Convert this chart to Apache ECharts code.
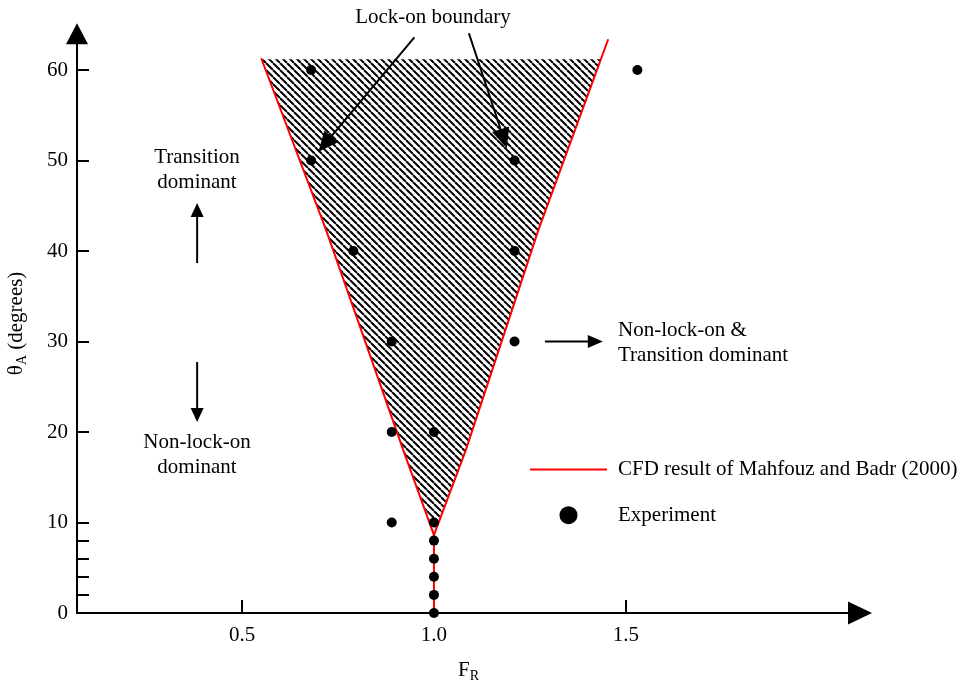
<!DOCTYPE html>
<html><head><meta charset="utf-8">
<script src="https://cdn.jsdelivr.net/npm/echarts@6/dist/echarts.min.js"></script>
<style>html,body{margin:0;padding:0;background:#fff}#c{width:964px;height:684px}</style>
</head><body><div id="c"></div>
<script>
const FONT = 'Liberation Serif';
// axis ticks / labels
const xTickValues = [0.5, 1.0, 1.5];
const yTickValues = [0, 2, 4, 6, 8, 10, 20, 30, 40, 50, 60];
const yLabelValues = [0, 10, 20, 30, 40, 50, 60];
// experiment points
const expF = [0.68, 1.53, 0.68, 1.21, 0.79, 1.21, 0.89, 1.21, 0.89, 1.0, 0.89, 1.0, 1.0, 1.0, 1.0, 1.0, 1.0];
const expTheta = [60, 60, 50, 50, 40, 40, 30, 30, 20, 20, 10, 10, 8, 6, 4, 2, 0];
// CFD lock-on boundary (Mahfouz and Badr 2000)
const cfdF = [0.55, 0.72, 0.92, 1.0, 1.0, 1.0, 1.083, 1.272, 1.454];
const cfdTheta = [61.3, 42.2, 18, 8.6, 0, 8.6, 18, 42.3, 63.4];
// hatched lock-on region
const lockF = [0.55, 1.435, 1.272, 1.083, 1.0, 0.92, 0.72];
const lockTheta = [61.2, 61.2, 42.3, 18, 9.0, 18, 42.2];
// annotation arrows (from -> to)
const arrowFromF = [0.949, 1.091, 0.383, 0.383, 1.289];
const arrowFromTheta = [63.6, 64.06, 38.67, 27.73, 30];
const arrowToF = [0.699, 1.190, 0.383, 0.383, 1.440];
const arrowToTheta = [50.97, 51.35, 45.3, 21.1, 30];
const arrowHead = [[20, 18], [20, 18], [14, 13], [14, 13], [15, 13]];

const T = 7;
const pc = document.createElement('canvas'); pc.width = T; pc.height = T;
const g = pc.getContext('2d');
g.fillStyle = '#fff'; g.fillRect(0, 0, T, T);
g.strokeStyle = '#000'; g.lineWidth = 2;
for (const o of [-T, 0, T]) { g.beginPath(); g.moveTo(o, 0); g.lineTo(o + T, T); g.stroke(); }
const hatch = { image: pc, repeat: 'repeat' };

const chart = echarts.init(document.getElementById('c'), null, { renderer: 'canvas' });
const txt = { fontFamily: FONT, fontSize: 21, color: '#000' };
const axisLineStyle = { color: '#000', width: 2 };

chart.setOption({
  animation: false,
  backgroundColor: '#fff',
  grid: { left: 77, right: 104, top: 33.8, bottom: 71, containLabel: false, outerBoundsMode: 'none' },
  xAxis: {
    type: 'value', min: 0.07, max: 2.11,
    name: '{a|F}{s|R}', nameLocation: 'middle', nameGap: 44,
    nameTextStyle: { rich: { a: { ...txt }, s: { fontFamily: FONT, fontSize: 14, color: '#000', padding: [12, 0, 0, 0] } } },
    axisLine: { show: true, lineStyle: axisLineStyle, symbol: ['none', 'triangle'], symbolSize: [23, 24] },
    axisTick: { show: true, inside: true, length: 13, lineStyle: axisLineStyle, customValues: xTickValues },
    axisLabel: { show: true, margin: 12, ...txt, customValues: xTickValues, formatter: v => v.toFixed(1) },
    splitLine: { show: false }
  },
  yAxis: {
    type: 'value', min: 0, max: 64,
    name: '{a|θ}{s|A}{a| (degrees)}', nameLocation: 'middle', nameRotate: 90, nameGap: 48,
    nameTextStyle: { rich: { a: { ...txt }, s: { fontFamily: FONT, fontSize: 14, color: '#000', padding: [12, 0, 0, 0] } } },
    axisLine: { show: true, lineStyle: axisLineStyle, symbol: ['none', 'triangle'], symbolSize: [22, 21] },
    axisTick: { show: true, inside: true, length: 12, lineStyle: axisLineStyle, customValues: yTickValues },
    axisLabel: { show: true, margin: 9, ...txt, customValues: yLabelValues },
    splitLine: { show: false }
  },
  legend: {
    orient: 'vertical', left: 530, top: 459, padding: 0, itemGap: 24.7, itemWidth: 77, itemHeight: 18,
    textStyle: { ...txt, padding: [0, 0, 0, 6] },
    data: [
      { name: 'CFD result of Mahfouz and Badr (2000)', icon: 'path://M0,0H77V2H0Z', itemStyle: { color: '#ff0000', borderWidth: 0 } },
      { name: 'Experiment', icon: 'circle', itemStyle: { color: '#000', opacity: 1 } }
    ]
  },
  series: [
    {
      type: 'custom', name: 'lock-on region', z: 1, silent: true,
      data: [[lockF[0], lockTheta[0]]],
      renderItem: (params, api) => ({
        type: 'polygon',
        shape: { points: lockF.map((f, i) => api.coord([f, lockTheta[i]])) },
        style: { fill: hatch, stroke: null }
      })
    },
    {
      type: 'line', name: 'CFD result of Mahfouz and Badr (2000)', z: 3, symbol: 'none',
      data: cfdF.map((f, i) => [f, cfdTheta[i]]),
      itemStyle: { color: '#ff0000' },
      lineStyle: { color: '#ff0000', width: 2 }
    },
    {
      type: 'scatter', name: 'Experiment', z: 5, symbol: 'circle', symbolSize: 10,
      data: expF.map((f, i) => [f, expTheta[i]]),
      itemStyle: { color: '#000', opacity: 1 }
    },
    {
      type: 'custom', name: 'arrows', z: 4, silent: true,
      data: arrowFromF.map((f, i) => [f, arrowFromTheta[i], arrowToF[i], arrowToTheta[i]]),
      renderItem: (params, api) => {
        const p0 = api.coord([api.value(0), api.value(1)]);
        const p1 = api.coord([api.value(2), api.value(3)]);
        const hs = arrowHead[params.dataIndex];
        const dx = p1[0] - p0[0], dy = p1[1] - p0[1], L = Math.hypot(dx, dy);
        const ux = dx / L, uy = dy / L, nx = -uy, ny = ux;
        const bx = p1[0] - ux * hs[0], by = p1[1] - uy * hs[0];
        return {
          type: 'group', children: [
            { type: 'line', shape: { x1: p0[0], y1: p0[1], x2: bx + ux, y2: by + uy }, style: { stroke: '#000', lineWidth: 2 } },
            { type: 'polygon', shape: { points: [[p1[0], p1[1]], [bx + nx * hs[1] / 2, by + ny * hs[1] / 2], [bx - nx * hs[1] / 2, by - ny * hs[1] / 2]] }, style: { fill: '#000' } }
          ]
        };
      }
    }
  ],
  graphic: [
    { type: 'text', x: 433, y: 17, style: { text: 'Lock-on boundary', font: '21px "Liberation Serif"', fill: '#000', textAlign: 'center', textVerticalAlign: 'middle' } },
    { type: 'text', x: 197, y: 170, style: { text: 'Transition\ndominant', font: '21px "Liberation Serif"', fill: '#000', textAlign: 'center', textVerticalAlign: 'middle', lineHeight: 25 } },
    { type: 'text', x: 197, y: 455, style: { text: 'Non-lock-on\ndominant', font: '21px "Liberation Serif"', fill: '#000', textAlign: 'center', textVerticalAlign: 'middle', lineHeight: 25 } },
    { type: 'text', x: 618, y: 343, style: { text: 'Non-lock-on &\nTransition dominant', font: '21px "Liberation Serif"', fill: '#000', textAlign: 'left', textVerticalAlign: 'middle', lineHeight: 25 } }
  ]
});
</script>
</body></html>
